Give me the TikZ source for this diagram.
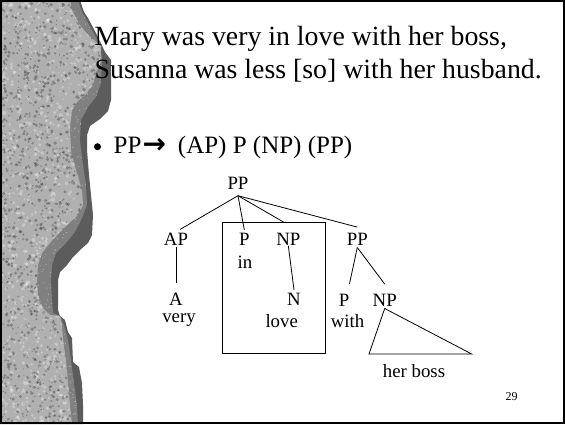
\documentclass[tikz,border=0pt]{standalone}
\usepackage{fontspec}
\setmainfont{Liberation Serif}
\newfontfamily\arrowfont{DejaVu Sans}
\definecolor{stonebase}{RGB}{176,176,176}
\definecolor{bandgray}{RGB}{128,128,128}
\definecolor{shadowgray}{RGB}{92,92,92}
\begin{document}
\begin{tikzpicture}[x=1pt,y=-1pt,
  title/.style={anchor=base west, inner sep=0pt, font=\fontsize{27.8}{34}\selectfont},
  rulefont/.style={anchor=base west, inner sep=0pt, font=\fontsize{25}{30}\selectfont},
  tlab/.style={anchor=base, inner sep=0pt, font=\fontsize{18.8}{22}\selectfont},
  treeline/.style={line width=0.8pt},
  boxline/.style={draw, line width=1pt, inner sep=0pt}]
\useasboundingbox (0,0) rectangle (565,424);
\fill[white] (0,0) rectangle (565,424);

% stone edge: shadow
\fill[shadowgray] (0,0) -- (80,0) -- (84,12) -- (88,18) -- (97,35) -- (105,52) -- (111,60) -- (111,100) -- (108,111) -- (100,119) -- (90,126) -- (87,135) -- (87,150) -- (89,175) -- (91,195) -- (93,215) -- (92,235) -- (88,243) -- (80,250) -- (73,257) -- (67,265) -- (60,272) -- (58,280) -- (58,310) -- (60,316) -- (65,320) -- (68,332) -- (72,338) -- (73,362) -- (79,367) -- (82,383) -- (83,405) -- (83,424) -- (0,424) -- cycle;

% stone edge: stippled band
\begin{scope}
\clip (0,0) -- (78,0) -- (82,12) -- (92,30) -- (100,45) -- (102,60) -- (101,83) -- (96,97) -- (88,107) -- (81,120) -- (80,140) -- (83,165) -- (86,185) -- (87,205) -- (82,218) -- (75,232) -- (66,243) -- (56,253) -- (52,265) -- (51,280) -- (52,300) -- (53,313) -- (60,316) -- (64,325) -- (68,340) -- (71,360) -- (74,383) -- (77,405) -- (78,424) -- (0,424) -- cycle;
\fill[bandgray] (0,0) rectangle (112,424);
\pgfmathsetseed{4711}
\foreach \i in {1,...,900}{
  \pgfmathsetmacro{\rx}{35+rnd*70}
  \pgfmathsetmacro{\ry}{rnd*424}
  \fill[white, fill opacity=0.35] (\rx,\ry) circle[radius=0.6pt];
}
\end{scope}

% stone edge: light mottled stone
\begin{scope}
\clip (0,0) -- (70,0) -- (72,10) -- (80,25) -- (88,35) -- (101,46) -- (101,62) -- (96,72) -- (93,85) -- (85,95) -- (77,102) -- (72,110) -- (70,127) -- (71,150) -- (76,170) -- (82,190) -- (83,205) -- (78,215) -- (70,222) -- (60,232) -- (50,243) -- (42,253) -- (38,265) -- (37,280) -- (38,295) -- (43,308) -- (50,315) -- (60,316) -- (62,325) -- (63,340) -- (66,360) -- (68,383) -- (70,405) -- (72,424) -- (0,424) -- cycle;
\fill[stonebase] (0,0) rectangle (110,424);
\pgfmathsetseed{12345}
\foreach \i in {1,...,1500}{
  \pgfmathsetmacro{\rx}{rnd*105}
  \pgfmathsetmacro{\ry}{rnd*424}
  \pgfmathsetmacro{\rr}{0.6+rnd*1.3}
  \fill[black, fill opacity=0.25] (\rx,\ry) circle[radius=\rr pt];
}
\foreach \i in {1,...,1200}{
  \pgfmathsetmacro{\rx}{rnd*105}
  \pgfmathsetmacro{\ry}{rnd*424}
  \pgfmathsetmacro{\rr}{0.6+rnd*1.5}
  \fill[white, fill opacity=0.3] (\rx,\ry) circle[radius=\rr pt];
}
\end{scope}

% title text
\node[title] (t1) at (94.5,45) {Mary was very in love with her boss,};
\node[title] (t2) at (94.5,78.3) {Susanna was less [so] with her husband.};

% bullet line
\node[circle, fill=black, inner sep=0pt, minimum size=7pt] (bul) at (97.5,146.7) {};
\node[rulefont] (rule) at (113.5,153.3) {PP\hspace{1pt}{\arrowfont\bfseries\fontsize{28}{30}\selectfont →}\hspace{12pt}(AP) P (NP) (PP)};

% tree
\node[tlab, text height=12pt, text depth=6.2pt] (root) at (238,189.3) {PP};
\node[tlab, text height=13.5pt, text depth=1pt] (ap) at (176,245.5) {AP};
\node[tlab, text height=15.5pt, text depth=0pt] (p1) at (244.3,245.5) {P};
\node[tlab, text height=20.5pt, text depth=0pt] (np1) at (288.3,245.5) {NP};
\node[tlab, text height=17.7pt, text depth=2.3pt] (pp2) at (357.3,245) {PP};
\node[tlab] (in) at (245,268) {in};
\node[tlab, text height=22.4pt, text depth=0pt] (a) at (176,305.7) {A};
\node[tlab, text height=15.7pt, text depth=0pt] (n) at (294,305.7) {N};
\node[tlab, text height=21.7pt, text depth=0pt] (p2) at (344,306) {P};
\node[tlab, text height=21.7pt, text depth=2.3pt] (np2) at (384.7,306) {NP};
\node[tlab] (very) at (179,322) {very};
\node[tlab] (love) at (281.7,327) {love};
\node[tlab] (with) at (347.5,327) {with};
\node[tlab] (herboss) at (414,377) {her boss};
\node[anchor=base, inner sep=0pt, font=\fontsize{12}{14}\selectfont] (pnum) at (511.7,400.7) {29};

\node[boxline, minimum width=102.5pt, minimum height=131pt] (box) at (273.75,287.8) {};

\draw[treeline, shorten >=5pt] (root.south) -- (ap.north);
\draw[treeline] (root.south) -- (p1.north);
\draw[treeline, shorten >=4pt] (root.south) -- (np1.north);
\draw[treeline] (root.south) -- (pp2.north);
\draw[treeline] (ap.south) -- (a.north);
\draw[treeline] (np1.south) -- (n.north);
\draw[treeline] (pp2.south) -- (p2.north east);
\draw[treeline] (pp2.south) -- (np2.north);
\coordinate (tl) at (369,354);
\coordinate (tr) at (471.7,354);
\draw[treeline, line join=miter] (np2.south) -- (tl) -- (tr) -- cycle;

% frame
\draw[line width=2pt] (1,1) rectangle (564,423);
\end{tikzpicture}
\end{document}
